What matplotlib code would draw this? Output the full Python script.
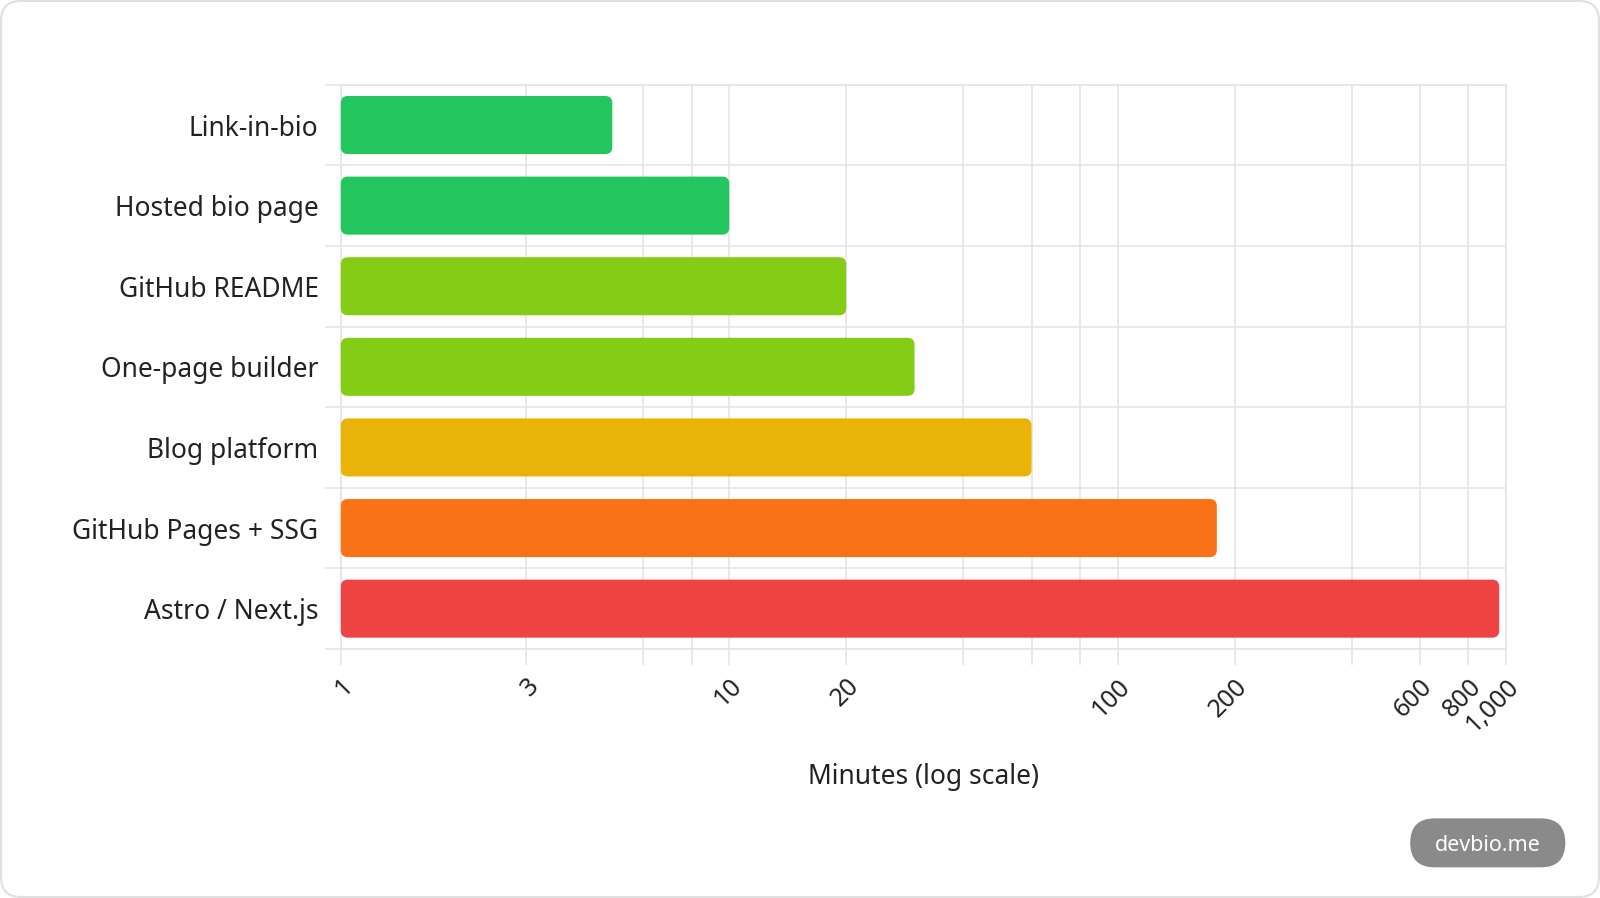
import matplotlib
matplotlib.use("Agg")
import matplotlib.pyplot as plt
from matplotlib.patches import FancyBboxPatch
from matplotlib.transforms import IdentityTransform

plt.rcParams['font.family'] = ['Noto Sans', 'DejaVu Sans']

# data
methods = ["Link-in-bio", "Hosted bio page", "GitHub README", "One-page builder",
           "Blog platform", "GitHub Pages + SSG", "Astro / Next.js"]
minutes = [5, 10, 20, 30, 60, 180, 960]
colors = ["#22c55e", "#22c55e", "#84cc16", "#84cc16", "#eab308", "#f97316", "#ef4444"]
x_ticks = [1, 3, 6, 8, 10, 20, 40, 60, 80, 100, 200, 400, 600, 800, 1000]
x_labels = ["1", "3", "", "", "10", "20", "", "", "", "100", "200", "", "600", "800", "1,000"]

grid_c = "#e5e5e5"
text_c = "#222222"

W, H = 1600, 898
s = W / 1568  # layout measured on a 1568 px wide view


def px(v):
    return v * s


fig = plt.figure(figsize=(16, 8.98), dpi=100)
ax = fig.add_axes([px(334) / W, 1 - px(636) / H, px(1476 - 334) / W, px(636 - 83) / H])

ax.set_xscale("log")
ax.set_xlim(1, 1000)
ax.set_ylim(len(methods) - 0.5, -0.5)

ax.set_xticks(x_ticks)
ax.set_xticklabels(x_labels, rotation=45, ha="right", va="top", rotation_mode="anchor")
ax.xaxis.set_minor_locator(matplotlib.ticker.NullLocator())
ax.tick_params(axis="x", length=11.8, width=1.2, color=grid_c, labelsize=18,
               labelcolor=text_c, pad=6)
ax.grid(axis="x", color=grid_c, lw=1.2)

ax.set_yticks(range(len(methods)))
ax.set_yticklabels(methods)
ax.set_yticks([i - 0.5 for i in range(len(methods) + 1)], minor=True)
ax.tick_params(axis="y", which="major", length=0, labelsize=19, labelcolor=text_c, pad=16)
ax.tick_params(axis="y", which="minor", length=11.8, width=1.2, color=grid_c)
ax.grid(axis="y", which="minor", color=grid_c, lw=1.2)
ax.set_axisbelow(True)

for sp in ax.spines.values():
    sp.set_color(grid_c)
    sp.set_linewidth(1.2)

ax.set_xlabel("Minutes (log scale)", fontsize=19, color=text_c, labelpad=19)

# rounded bars, positioned via the axes' own data transform
bar_h = 0.72
for i, (v, c) in enumerate(zip(minutes, colors)):
    x0, y0 = ax.transData.transform((1, i + bar_h / 2))
    x1, y1 = ax.transData.transform((v, i - bar_h / 2))
    r = 7
    patch = FancyBboxPatch((x0 + r, y0 + r), x1 - x0 - 2 * r, y1 - y0 - 2 * r,
                           boxstyle="round,pad=%d,rounding_size=%d" % (r, r),
                           transform=IdentityTransform(), facecolor=c, edgecolor="none",
                           zorder=3)
    fig.patches.append(patch)

# outer card border
card = FancyBboxPatch((1 + 20, 1 + 20), W - 2 - 40, H - 2 - 40,
                      boxstyle="round,pad=20,rounding_size=20",
                      transform=IdentityTransform(), facecolor="none",
                      edgecolor="#e0e0e0", lw=1.5, zorder=0)
fig.patches.append(card)

# watermark pill
pr = px(24)
pill = FancyBboxPatch((px(1382) + pr, H - px(850) + pr), px(152) - 2 * pr, px(48) - 2 * pr,
                      boxstyle="round,pad=%.2f,rounding_size=%.2f" % (pr, pr),
                      transform=IdentityTransform(), facecolor="#8a8a8a",
                      edgecolor="none", zorder=5)
fig.patches.append(pill)
fig.text(px(1458) / W, 1 - px(829) / H, "devbio.me", ha="center", va="center",
         fontsize=15.5, color="white", fontweight="bold", zorder=6)

fig.savefig("out.png", dpi=100)
